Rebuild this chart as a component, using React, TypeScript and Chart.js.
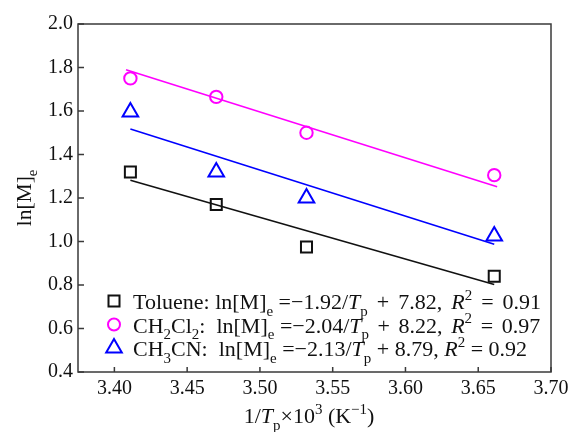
import React, { useEffect, useRef } from 'react';
import { Chart, registerables } from 'chart.js';

Chart.register(...registerables);

// ---------- data ----------
const xValues = [3.411, 3.47, 3.532, 3.661];
const toluene = [1.32, 1.17, 0.975, 0.84];
const ch2cl2 = [1.75, 1.665, 1.5, 1.305];
const ch3cn = [1.595, 1.32, 1.2, 1.025];

const fitX = [3.411, 3.661];
const fitXCh2cl2 = [3.408, 3.663];
const tolueneFit = [1.282, 0.802];
const ch2cl2Fit = [1.79, 1.252];
const ch3cnFit = [1.517, 0.987];

const xTicks = [3.4, 3.45, 3.5, 3.55, 3.6, 3.65, 3.7];
const xTickLabels = ['3.40', '3.45', '3.50', '3.55', '3.60', '3.65', '3.70'];
const yTicks = [0.4, 0.6, 0.8, 1.0, 1.2, 1.4, 1.6, 1.8, 2.0];
const yTickLabels = ['0.4', '0.6', '0.8', '1.0', '1.2', '1.4', '1.6', '1.8', '2.0'];

type Seg = [string, 'n' | 'i' | 'sub' | 'sup' | 'g'];

// 'g' = extra horizontal gap in em
const legendRows: Seg[][] = [
  [['Toluene: ln[M]', 'n'], ['e', 'sub'], [' =\u22121.92/', 'n'], ['T', 'i'], ['p', 'sub'], [' ', 'n'], ['0.16', 'g'], ['+ ', 'n'], ['0.16', 'g'], ['7.82, ', 'n'], ['0.16', 'g'], ['R', 'i'], ['2', 'sup'], [' ', 'n'], ['0.16', 'g'], ['= ', 'n'], ['0.16', 'g'], ['0.91', 'n']],
  [['CH', 'n'], ['2', 'sub'], ['Cl', 'n'], ['2', 'sub'], [':  ln[M]', 'n'], ['e', 'sub'], [' =\u22122.04/', 'n'], ['T', 'i'], ['p', 'sub'], [' ', 'n'], ['0.14', 'g'], ['+ ', 'n'], ['0.14', 'g'], ['8.22, ', 'n'], ['0.14', 'g'], ['R', 'i'], ['2', 'sup'], [' ', 'n'], ['0.14', 'g'], ['= ', 'n'], ['0.14', 'g'], ['0.97', 'n']],
  [['CH', 'n'], ['3', 'sub'], ['CN:  ln[M]', 'n'], ['e', 'sub'], [' =\u22122.13/', 'n'], ['T', 'i'], ['p', 'sub'], [' + 8.79, ', 'n'], ['R', 'i'], ['2', 'sup'], [' = 0.92', 'n']],
];
const legendStyles = ['rect', 'circle', 'triangle'];
const seriesColors = ['#111111', '#ff00ff', '#0000ff'];

const xTitle: Seg[] = [['1/', 'n'], ['T', 'i'], ['p', 'sub'], ['\u00d710', 'n'], ['3', 'sup'], [' (K', 'n'], ['\u22121', 'sup'], [')', 'n']];
const yTitle: Seg[] = [['ln[M]', 'n'], ['e', 'sub']];

const FONT = '"Liberation Serif", "DejaVu Serif", serif';
const TEXT = '#111111';
const AXIS = '#3a3a3a';

function segFont(kind: string, size: number) {
  const s = kind === 'sub' || kind === 'sup' ? size * 0.68 : size;
  return `${kind === 'i' ? 'italic ' : ''}${s}px ${FONT}`;
}

function segWidth(ctx: CanvasRenderingContext2D, seg: Seg, size: number) {
  if (seg[1] === 'g') return parseFloat(seg[0]) * size;
  ctx.font = segFont(seg[1], size);
  return ctx.measureText(seg[0]).width;
}

function richWidth(ctx: CanvasRenderingContext2D, segs: Seg[], size: number) {
  let w = 0;
  for (const s of segs) w += segWidth(ctx, s, size);
  return w;
}

function drawRich(ctx: CanvasRenderingContext2D, segs: Seg[], x: number, y: number, size: number, align: 'left' | 'center') {
  let cx = align === 'center' ? x - richWidth(ctx, segs, size) / 2 : x;
  ctx.textAlign = 'left';
  ctx.textBaseline = 'alphabetic';
  for (const s of segs) {
    const [t, k] = s;
    const w = segWidth(ctx, s, size);
    if (k !== 'g') {
      ctx.font = segFont(k, size);
      const dy = k === 'sub' ? size * 0.3 : k === 'sup' ? -size * 0.42 : 0;
      ctx.fillText(t, cx, y + dy);
    }
    cx += w;
  }
}

function drawMarker(ctx: CanvasRenderingContext2D, style: string, x: number, y: number) {
  ctx.beginPath();
  if (style === 'rect') {
    const h = 5.5;
    ctx.rect(x - h, y - h, 2 * h, 2 * h);
  } else if (style === 'circle') {
    ctx.arc(x, y, 6, 0, Math.PI * 2);
  } else {
    const r = 9;
    ctx.moveTo(x, y - r);
    ctx.lineTo(x + Math.sin((2 * Math.PI) / 3) * r, y + r / 2);
    ctx.lineTo(x - Math.sin((2 * Math.PI) / 3) * r, y + r / 2);
    ctx.closePath();
  }
  ctx.stroke();
}

const decorPlugin = {
  id: 'decor',
  afterDraw(chart: any) {
    const ctx: CanvasRenderingContext2D = chart.ctx;
    const { left, right, top, bottom } = chart.chartArea;
    const xs = chart.scales.x;
    const ys = chart.scales.y;
    ctx.save();
    // frame
    ctx.strokeStyle = AXIS;
    ctx.lineWidth = 1.5;
    ctx.strokeRect(left, top, right - left, bottom - top);
    // inward ticks
    ctx.beginPath();
    for (const v of xTicks) {
      const px = xs.getPixelForValue(v);
      ctx.moveTo(px, bottom);
      ctx.lineTo(px, bottom - 5);
    }
    for (const v of yTicks) {
      const py = ys.getPixelForValue(v);
      ctx.moveTo(left, py);
      ctx.lineTo(left + 6, py);
    }
    ctx.stroke();

    // axis titles
    ctx.fillStyle = TEXT;
    drawRich(ctx, xTitle, 309, 423, 22, 'center');
    ctx.save();
    ctx.translate(31, (top + bottom) / 2);
    ctx.rotate(-Math.PI / 2);
    drawRich(ctx, yTitle, 0, 0, 21.5, 'center');
    ctx.restore();

    // legend
    const markerX = 114;
    const baseY = [309, 332.5, 356];
    legendRows.forEach((row, i) => {
      ctx.strokeStyle = seriesColors[i];
      ctx.lineWidth = 2;
      drawMarker(ctx, legendStyles[i], markerX, baseY[i] - 8);
      ctx.fillStyle = TEXT;
      drawRich(ctx, row, 133, baseY[i], 22, 'left');
    });
    ctx.restore();
  },
};

function pts(xs: number[], ys: number[]) {
  return xs.map((x, i) => ({ x, y: ys[i] }));
}

export default function App() {
  const ref = useRef<HTMLCanvasElement>(null);
  useEffect(() => {
    if (!ref.current) return;
    const lineDs = (xs: number[], data: number[], color: string) => ({
      data: pts(xs, data),
      borderColor: color,
      borderWidth: 1.6,
      pointRadius: 0,
      showLine: true,
      fill: false,
    });
    const ptDs = (data: number[], color: string, style: string, r: number) => ({
      data: pts(xValues, data),
      showLine: false,
      borderColor: color,
      backgroundColor: 'rgba(0,0,0,0)',
      pointBorderColor: color,
      pointBackgroundColor: 'rgba(0,0,0,0)',
      pointBorderWidth: 2,
      pointStyle: style,
      pointRadius: r,
    });
    const chart = new Chart(ref.current, {
      type: 'scatter',
      data: {
        datasets: [
          lineDs(fitX, tolueneFit, seriesColors[0]),
          lineDs(fitXCh2cl2, ch2cl2Fit, seriesColors[1]),
          lineDs(fitX, ch3cnFit, seriesColors[2]),
          ptDs(toluene, seriesColors[0], 'rect', 7.8),
          ptDs(ch2cl2, seriesColors[1], 'circle', 6.2),
          ptDs(ch3cn, seriesColors[2], 'triangle', 9),
        ] as any,
      },
      options: {
        animation: false,
        responsive: false,
        layout: { padding: { top: 24, right: 22, left: 0, bottom: 0 } },
        plugins: { legend: { display: false }, tooltip: { enabled: false } },
        scales: {
          x: {
            type: 'linear',
            min: 3.375,
            max: 3.7,
            afterBuildTicks: (s: any) => {
              s.ticks = xTicks.map((v) => ({ value: v }));
            },
            afterFit: (s: any) => {
              s.height = 60;
              s.paddingLeft = 0;
              s.paddingRight = 0;
            },
            ticks: {
              callback: (_v: any, i: number) => xTickLabels[i],
              font: { family: FONT, size: 20 },
              color: TEXT,
              padding: 5,
              maxRotation: 0,
              autoSkip: false,
            },
            grid: { display: false, drawTicks: false },
            border: { display: false },
          },
          y: {
            type: 'linear',
            min: 0.4,
            max: 2.0,
            afterBuildTicks: (s: any) => {
              s.ticks = yTicks.map((v) => ({ value: v }));
            },
            afterFit: (s: any) => {
              s.width = 78;
              s.paddingTop = 0;
              s.paddingBottom = 0;
            },
            ticks: {
              callback: (_v: any, i: number) => yTickLabels[i],
              font: { family: FONT, size: 20 },
              color: TEXT,
              padding: 5,
              autoSkip: false,
            },
            grid: { display: false, drawTicks: false },
            border: { display: false },
          },
        },
      } as any,
      plugins: [decorPlugin],
    });
    return () => chart.destroy();
  }, []);
  return (
    <div style={{ position: 'absolute', left: 0, top: 0, width: 573, height: 432, background: '#fff' }}>
      <canvas ref={ref} width={573} height={432} style={{ display: 'block' }} />
    </div>
  );
}
